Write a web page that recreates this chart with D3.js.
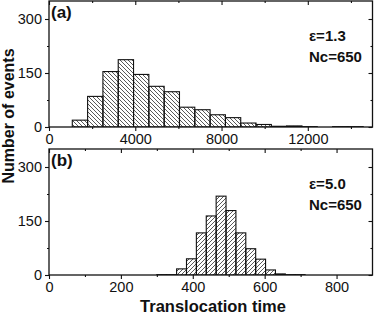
<!DOCTYPE html>
<html>
<head>
<meta charset="utf-8">
<script src="https://cdn.jsdelivr.net/npm/d3@7"></script>
<style>
  body { margin: 0; background: #fff; }
  text { font-family: "Liberation Sans", Arial, sans-serif; fill: #111; }
</style>
</head>
<body>
<svg id="chart"></svg>
<script>
// panel (a): epsilon = 1.3
const countsA = [19, 85, 154, 187, 146, 113, 98, 55, 48, 34, 26, 11, 7, 2, 3, 1, 0, 1, 1, 0]
const binStartA = 1080
const binWidthA = 710
const majorA = [0, 4000, 8000, 12000]
const minorA = [2000, 6000, 10000, 14000]

// panel (b): epsilon = 5.0
const countsB = [1, 1, 17, 45, 117, 164, 219, 179, 117, 73, 44, 14, 3, 1, 1]
const binStartB = 300
const binWidthB = 27.5
const majorB = [0, 200, 400, 600, 800]
const minorB = [100, 300, 500, 700]

const yMajor = [0, 150, 300]
const yMinor = [75, 225]
const notesA = ['ε=1.3', 'Nc=650']
const notesB = ['ε=5.0', 'Nc=650']

const w = 374
const h = 315
const left = 49
const right = 372.5

const svg = d3.select('#chart')
              .attr('width', w)
              .attr('height', h)

const defs = svg.append('defs')

function hatch(id, d) {
  defs.append('pattern')
      .attr('id', id)
      .attr('patternUnits', 'userSpaceOnUse')
      .attr('width', 4)
      .attr('height', 4)
    .append('path')
      .attr('d', d)
      .attr('stroke', '#222')
      .attr('stroke-width', 0.75)
}
hatch('back', 'M0,0L4,4M-1,3L1,5M3,-1L5,1')
hatch('fwd', 'M0,4L4,0M-1,1L1,-1M3,5L5,3')

function panel(opt) {
  const x = d3.scaleLinear().domain(opt.xDomain).range([left, right])
  const y = d3.scaleLinear().domain([0, 350]).range([opt.bottom, opt.bottom - 126])
  const g = svg.append('g')

  defs.append('clipPath')
      .attr('id', opt.id + '-clip')
    .append('rect')
      .attr('x', left)
      .attr('y', y(350))
      .attr('width', right - left)
      .attr('height', y(0) - y(350))

  g.append('g')
   .attr('clip-path', 'url(#' + opt.id + '-clip)')
    .selectAll('rect')
    .data(opt.counts.map((c, i) => ({ x0: opt.start + i * opt.width, c })).filter(d => d.c > 0))
    .enter()
    .append('rect')
      .attr('x', d => x(d.x0))
      .attr('width', d => x(d.x0 + opt.width) - x(d.x0))
      .attr('y', d => y(d.c))
      .attr('height', d => y(0) - y(d.c))
      .attr('fill', 'url(#' + opt.pattern + ')')
      .attr('stroke', '#111')
      .attr('stroke-width', 1.1)

  const fmt = d3.format('d')
  const axes = [
    [d3.axisBottom(x).tickValues(opt.major).tickSize(4).tickPadding(3).tickFormat(fmt), 'translate(0,' + y(0) + ')'],
    [d3.axisBottom(x).tickValues(opt.minor).tickSize(2).tickFormat(''), 'translate(0,' + y(0) + ')'],
    [d3.axisTop(x).tickValues(opt.major).tickSize(-4).tickFormat(''), 'translate(0,' + y(350) + ')'],
    [d3.axisTop(x).tickValues(opt.minor).tickSize(-2).tickFormat(''), 'translate(0,' + y(350) + ')'],
    [d3.axisLeft(y).tickValues(yMajor).tickSize(4).tickPadding(3).tickFormat(fmt), 'translate(' + left + ',0)'],
    [d3.axisLeft(y).tickValues(yMinor).tickSize(2).tickFormat(''), 'translate(' + left + ',0)'],
    [d3.axisRight(y).tickValues(yMajor).tickSize(-4).tickFormat(''), 'translate(' + right + ',0)'],
    [d3.axisRight(y).tickValues(yMinor).tickSize(-2).tickFormat(''), 'translate(' + right + ',0)']
  ]
  axes.forEach(([ax, tr]) => {
    const a = g.append('g')
               .attr('transform', tr)
               .call(ax)
    a.select('.domain').remove()
    a.selectAll('line').attr('stroke', '#111').attr('stroke-width', 1.1)
    a.selectAll('text')
     .attr('font-size', 14.5)
     .attr('font-family', '"Liberation Sans", Arial, sans-serif')
     .attr('fill', '#111')
  })

  g.append('rect')
   .attr('x', left)
   .attr('y', y(350))
   .attr('width', right - left)
   .attr('height', y(0) - y(350))
   .attr('fill', 'none')
   .attr('stroke', '#111')
   .attr('stroke-width', 1.3)

  g.append('text')
   .attr('x', 51)
   .attr('y', y(350) + 17)
   .attr('font-size', 17)
   .attr('font-weight', 'bold')
   .text(opt.tag)

  g.selectAll('.note')
   .data(opt.notes)
   .enter()
   .append('text')
     .attr('x', 309)
     .attr('y', (d, i) => y(350) + 40 + i * 21)
     .attr('font-size', 15)
     .attr('font-weight', 'bold')
     .text(d => d)
}

panel({ id: 'a', bottom: 127, xDomain: [0, 15000], counts: countsA, start: binStartA,
        width: binWidthA, major: majorA, minor: minorA, pattern: 'back', tag: '(a)', notes: notesA })
panel({ id: 'b', bottom: 275, xDomain: [0, 900], counts: countsB, start: binStartB,
        width: binWidthB, major: majorB, minor: minorB, pattern: 'fwd', tag: '(b)', notes: notesB })

svg.append('text')
   .attr('transform', 'translate(14,116) rotate(-90)')
   .attr('text-anchor', 'middle')
   .attr('font-size', 16)
   .attr('font-weight', 'bold')
   .text('Number of events')

svg.append('text')
   .attr('x', 213)
   .attr('y', 312)
   .attr('text-anchor', 'middle')
   .attr('font-size', 16.5)
   .attr('font-weight', 'bold')
   .text('Translocation time')
</script>
</body>
</html>
